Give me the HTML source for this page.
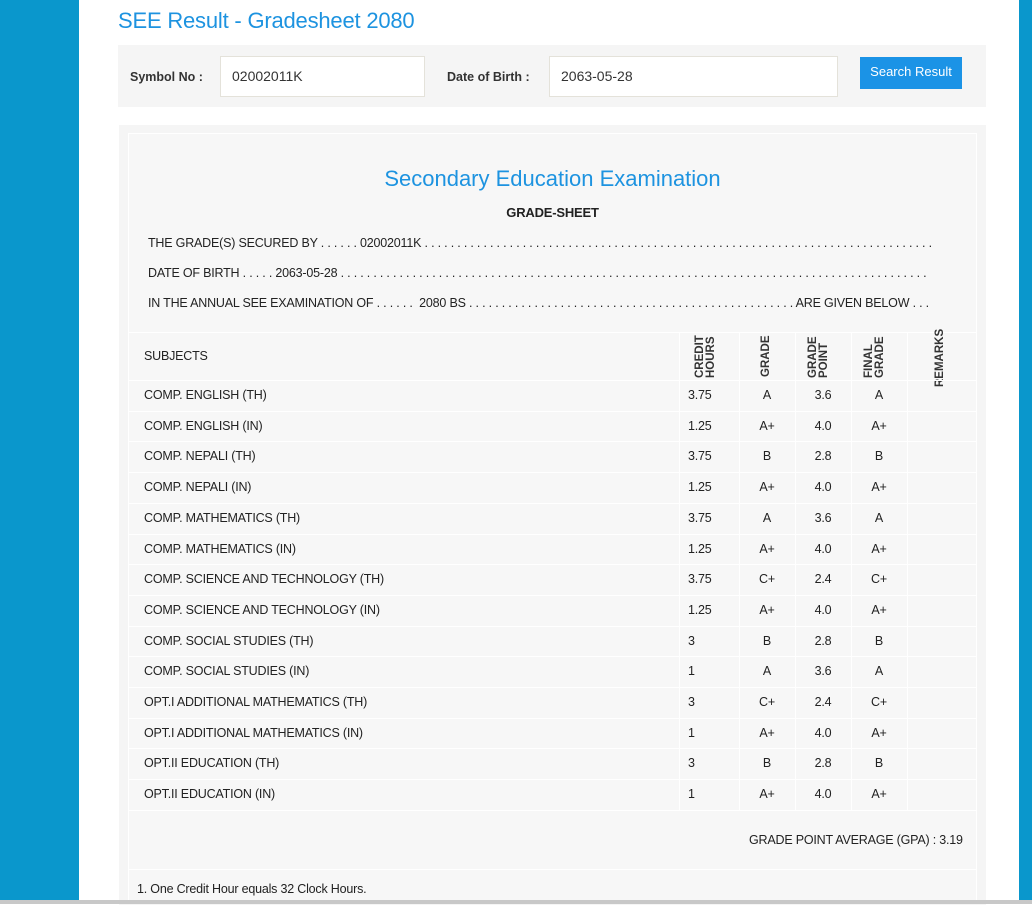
<!DOCTYPE html>
<html><head><meta charset="utf-8"><style>
*{margin:0;padding:0;box-sizing:border-box}
body{width:1032px;height:904px;overflow:hidden;background:#fff;font-family:"Liberation Sans",sans-serif;position:relative}
.lb{position:absolute;left:0;top:0;width:79px;height:904px;background:#0a97cc}
.rb{position:absolute;left:1019px;top:0;width:13px;height:904px;background:#0a97cc}
.bot{position:absolute;left:0;top:900px;width:1032px;height:4px;background:#c8c8c8}
.h1{position:absolute;left:118px;top:8px;font-size:22px;color:#1d93e0;letter-spacing:-0.2px}
.form{position:absolute;left:118px;top:45px;width:868px;height:62px;background:#f5f5f5}
.lbl{position:absolute;font-size:12.5px;font-weight:bold;color:#333;top:70px}
.inp{position:absolute;top:56px;height:41px;background:#fff;border:1px solid #e4e2da;font-size:14px;color:#333;padding:11px 11px}
.btn{position:absolute;left:860px;top:57px;width:102px;height:32px;background:#1b93e6;color:#fff;font-size:13px;text-align:center;line-height:30px}
.panel{position:absolute;left:119px;top:125px;width:867px;height:780px;background:#f5f5f5}
.box{position:absolute;left:128px;top:133px;width:849px;height:770px;border:1px solid #fff;background:#f7f7f7}
.t{position:absolute;font-size:12.5px;color:#222;white-space:nowrap;letter-spacing:-0.2px}
.c{text-align:center}
.hl{position:absolute;height:1px;background:#fff}
.vl{position:absolute;width:1px;background:#fff}
.rot{position:absolute;font-size:11.5px;font-weight:bold;color:#333;transform:rotate(-90deg);transform-origin:left top;line-height:11px;white-space:nowrap}
</style></head><body>
<div class="lb"></div><div class="rb"></div>
<div class="h1">SEE Result - Gradesheet 2080</div>
<div class="form"></div>
<div class="lbl" style="left:130px">Symbol No :</div>
<div class="inp" style="left:220px;width:205px">02002011K</div>
<div class="lbl" style="left:447px">Date of Birth :</div>
<div class="inp" style="left:549px;width:289px">2063-05-28</div>
<div class="btn">Search Result</div>
<div class="panel"></div>
<div class="box"></div>
<div class="t c" style="left:128px;width:849px;top:166px;font-size:22px;color:#1d93e0;letter-spacing:0">Secondary Education Examination</div>
<div class="t c" style="left:128px;width:849px;top:205px;font-weight:bold;font-size:13px">GRADE-SHEET</div>
<div class="t" style="left:148px;top:236px">THE GRADE(S) SECURED BY . . . . . . 02002011K . . . . . . . . . . . . . . . . . . . . . . . . . . . . . . . . . . . . . . . . . . . . . . . . . . . . . . . . . . . . . . . . . . . . . . . . . . . . . .</div>
<div class="t" style="left:148px;top:266px">DATE OF BIRTH . . . . . 2063-05-28 . . . . . . . . . . . . . . . . . . . . . . . . . . . . . . . . . . . . . . . . . . . . . . . . . . . . . . . . . . . . . . . . . . . . . . . . . . . . . . . . . . . . . . . . . .</div>
<div class="t" style="left:148px;top:296px">IN THE ANNUAL SEE EXAMINATION OF . . . . . . &nbsp;2080 BS . . . . . . . . . . . . . . . . . . . . . . . . . . . . . . . . . . . . . . . . . . . . . . . . . . ARE GIVEN BELOW . . .</div>
<div class="hl" style="left:128px;top:332px;width:849px"></div>
<div class="t" style="left:144px;top:349px">SUBJECTS</div>
<div class="rot" style="left:695px;top:378px">CREDIT<br>HOURS</div>
<div class="rot" style="left:761px;top:377px">GRADE</div>
<div class="rot" style="left:808px;top:378px">GRADE<br>POINT</div>
<div class="rot" style="left:864px;top:378px">FINAL<br>GRADE</div>
<div class="rot" style="left:935px;top:387px">REMARKS</div>
<div id="rows"></div>
<script>
var d=[["COMP. ENGLISH (TH)","3.75","A","3.6","A"],["COMP. ENGLISH (IN)","1.25","A+","4.0","A+"],["COMP. NEPALI (TH)","3.75","B","2.8","B"],["COMP. NEPALI (IN)","1.25","A+","4.0","A+"],["COMP. MATHEMATICS (TH)","3.75","A","3.6","A"],["COMP. MATHEMATICS (IN)","1.25","A+","4.0","A+"],["COMP. SCIENCE AND TECHNOLOGY (TH)","3.75","C+","2.4","C+"],["COMP. SCIENCE AND TECHNOLOGY (IN)","1.25","A+","4.0","A+"],["COMP. SOCIAL STUDIES (TH)","3","B","2.8","B"],["COMP. SOCIAL STUDIES (IN)","1","A","3.6","A"],["OPT.I ADDITIONAL MATHEMATICS (TH)","3","C+","2.4","C+"],["OPT.I ADDITIONAL MATHEMATICS (IN)","1","A+","4.0","A+"],["OPT.II EDUCATION (TH)","3","B","2.8","B"],["OPT.II EDUCATION (IN)","1","A+","4.0","A+"]];
var h="",y0=380,rh=30.7;
h+='<div class="hl" style="left:128px;top:380px;width:849px"></div>';
[679,739,795,851,907].forEach(function(x){h+='<div class="vl" style="left:'+x+'px;top:333px;height:477px"></div>'});
d.forEach(function(r,i){var y=Math.round(y0+i*rh);var ty=y+8;
h+='<div class="t" style="left:144px;top:'+ty+'px">'+r[0]+'</div>';
h+='<div class="t" style="left:688px;top:'+ty+'px">'+r[1]+'</div>';
h+='<div class="t c" style="left:739px;width:56px;top:'+ty+'px">'+r[2]+'</div>';
h+='<div class="t c" style="left:795px;width:56px;top:'+ty+'px">'+r[3]+'</div>';
h+='<div class="t c" style="left:851px;width:56px;top:'+ty+'px">'+r[4]+'</div>';
h+='<div class="hl" style="left:128px;top:'+Math.round(y0+(i+1)*rh)+'px;width:849px"></div>';});
document.getElementById("rows").innerHTML=h;
</script>
<div class="t" style="left:749px;top:833px">GRADE POINT AVERAGE (GPA) : 3.19</div>
<div class="hl" style="left:128px;top:869px;width:849px"></div>
<div class="t" style="left:137px;top:882px">1. One Credit Hour equals 32 Clock Hours.</div>
<div class="bot"></div>
</body></html>
